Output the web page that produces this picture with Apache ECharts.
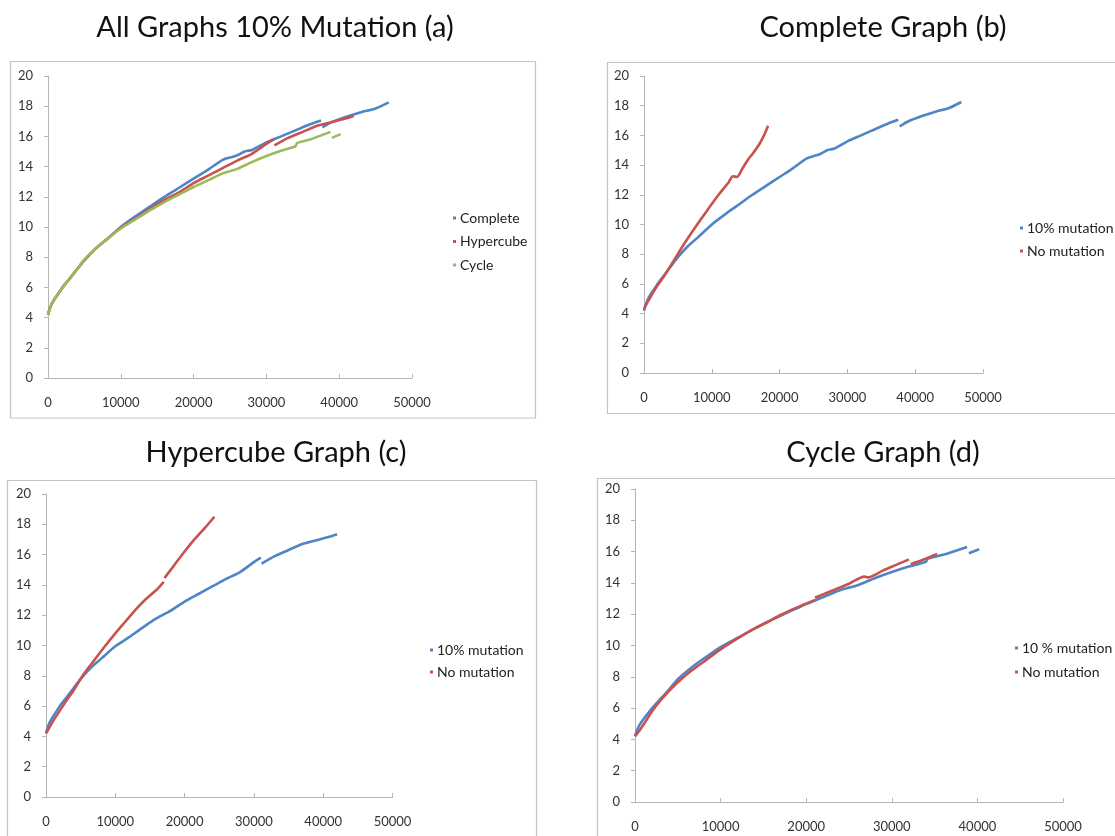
<!DOCTYPE html>
<html><head><meta charset="utf-8">
<script src="https://cdn.jsdelivr.net/npm/echarts@6/dist/echarts.min.js"></script>
<style>html,body{margin:0;padding:0;background:#fff;} #c{width:1115px;height:836px;}</style>
</head><body><div id="c"></div>
<script>
// ---------- data ----------
const panelTitles = ['All Graphs 10% Mutation (a)', 'Complete Graph (b)', 'Hypercube Graph (c)', 'Cycle Graph (d)'];
const legendA = ['Complete', 'Hypercube', 'Cycle'];
const legendBC = ['10% mutation', 'No mutation'];
const legendD = ['10 % mutation', 'No mutation'];

// Complete graph, 10% mutation
const complete10X = [0, 250, 500, 1000, 1500, 2000, 3000, 4000, 5000, 6500, 8000, 10000, 12000, 14000, 16000, 18000, 20000, 22000, 24000, 25000, 26000, 27000, 28000, 30000, 32000, 34000, 36000, 37500, 37600, 37700, 39000, 41000, 43000, 45000, 46800];
const complete10Y = [4.2, 4.6, 4.9, 5.3, 5.65, 6.0, 6.6, 7.2, 7.8, 8.55, 9.15, 10.0, 10.7, 11.35, 12.0, 12.6, 13.2, 13.8, 14.45, 14.6, 14.75, 15.0, 15.1, 15.6, 16.0, 16.4, 16.8, 17.05, null, 16.6, 16.95, 17.3, 17.6, 17.85, 18.25];
// Hypercube graph, 10% mutation
const hyper10X = [0, 250, 500, 1000, 1500, 2000, 3000, 4000, 5000, 6500, 8000, 10000, 12000, 14000, 16000, 18000, 20000, 22000, 24000, 26000, 28000, 30000, 31000, 31050, 31100, 33000, 35000, 37000, 39000, 41000, 42000];
const hyper10Y = [4.2, 4.6, 4.9, 5.3, 5.65, 6.0, 6.6, 7.2, 7.8, 8.55, 9.15, 9.95, 10.55, 11.2, 11.8, 12.3, 12.9, 13.4, 13.9, 14.4, 14.85, 15.5, 15.8, null, 15.4, 15.9, 16.3, 16.7, 16.95, 17.2, 17.35];
// Cycle graph, 10% mutation
const cycle10X = [0, 250, 500, 1000, 1500, 2000, 3000, 4000, 5000, 6500, 8000, 10000, 12000, 14000, 16000, 18000, 20000, 22000, 24000, 25000, 26000, 28000, 30000, 32000, 34000, 34200, 36000, 38800, 38900, 39000, 40200];
const cycle10Y = [4.2, 4.6, 4.9, 5.3, 5.65, 6.0, 6.6, 7.2, 7.85, 8.55, 9.15, 9.9, 10.5, 11.1, 11.65, 12.15, 12.65, 13.1, 13.55, 13.7, 13.85, 14.3, 14.7, 15.05, 15.35, 15.55, 15.8, 16.3, null, 15.9, 16.15];
// No mutation
const completeNoX = [0, 500, 1000, 2000, 3000, 4300, 6000, 8000, 9400, 11000, 12500, 13100, 13700, 14500, 15300, 16000, 17000, 17700, 18300];
const completeNoY = [4.3, 4.75, 5.15, 5.9, 6.55, 7.5, 8.75, 10.1, 11.0, 12.0, 12.85, 13.25, 13.2, 13.75, 14.35, 14.75, 15.4, 16.0, 16.65];
const hyperNoX = [0, 500, 1000, 2000, 3000, 4000, 5500, 7000, 8500, 10000, 11500, 13000, 14500, 16000, 17000, 17050, 17100, 18500, 20000, 21500, 23000, 24300];
const hyperNoY = [4.2, 4.6, 5.0, 5.7, 6.4, 7.05, 8.15, 9.05, 9.95, 10.8, 11.6, 12.4, 13.1, 13.7, 14.2, null, 14.45, 15.3, 16.2, 17.05, 17.8, 18.5];
const cycleNoX = [0, 500, 1000, 2000, 3000, 4000, 5000, 6500, 8000, 10000, 12000, 14000, 15500, 17000, 19000, 21000, 21010, 21020, 23000, 25000, 26800, 27200, 29000, 30500, 32000, 32100, 32200, 33500, 35300];
const cycleNoY = [4.2, 4.55, 4.95, 5.8, 6.5, 7.1, 7.65, 8.35, 8.95, 9.75, 10.45, 11.1, 11.5, 11.95, 12.45, 12.9, null, 13.05, 13.5, 13.95, 14.4, 14.35, 14.8, 15.15, 15.5, null, 15.2, 15.45, 15.85];

// ---------- layout / style ----------
const BLUE = '#4F85C6', RED = '#C9514E', GREEN = '#9BBB59';
const FONT = 'Lato';
const grids = [
  {left: 48, top: 76, width: 364, height: 302},
  {left: 644, top: 76, width: 339, height: 297},
  {left: 46, top: 494, width: 346.5, height: 303},
  {left: 635, top: 489, width: 428, height: 313}
];
const boxes = [
  [10.5, 61.5, 525, 356.5],
  [607.5, 62.5, 530, 351],
  [7.5, 480.5, 529, 380],
  [597.5, 478.5, 530, 380]
];
const titlePos = [[275, 28], [883, 28], [276, 453], [883, 453]];
const legendPos = [[453, 210, 7.5, legendA], [1020, 220, 7, legendBC], [430, 642, 6, legendBC], [1015, 640, 8, legendD]];

function zip(xs, ys) { return xs.map((x, i) => [x, ys[i]]); }
function line(name, xs, ys, color, idx) {
  return {
    type: 'line', name, xAxisIndex: idx, yAxisIndex: idx,
    data: zip(xs, ys), connectNulls: false, smooth: 0.25,
    symbol: 'none', showSymbol: false,
    lineStyle: {width: 2.6, color}, itemStyle: {color},
    emphasis: {disabled: true}
  };
}
const axisColor = '#b5b5b5';
const xAxes = grids.map((g, i) => ({
  type: 'value', gridIndex: i, min: 0, max: 50000, interval: 10000,
  axisLine: {show: true, lineStyle: {color: axisColor, width: 1}},
  axisTick: {show: true, inside: true, length: 4, lineStyle: {color: axisColor}},
  splitLine: {show: false},
  axisLabel: {margin: 18, fontFamily: FONT, fontSize: 13, color: '#333', formatter: v => String(v)}
}));
const yAxes = grids.map((g, i) => ({
  type: 'value', gridIndex: i, min: 0, max: 20, interval: 2,
  axisLine: {show: true, lineStyle: {color: axisColor, width: 1}},
  axisTick: {show: true, inside: false, length: 4, lineStyle: {color: axisColor}},
  splitLine: {show: false},
  axisLabel: {margin: 15, fontFamily: FONT, fontSize: 13, color: '#333', formatter: v => String(v)}
}));

const series = [
  line('Complete', complete10X, complete10Y, BLUE, 0),
  line('Hypercube', hyper10X, hyper10Y, RED, 0),
  line('Cycle', cycle10X, cycle10Y, GREEN, 0),
  line('10% mutation', complete10X, complete10Y, BLUE, 1),
  line('No mutation', completeNoX, completeNoY, RED, 1),
  line('10% mutation', hyper10X, hyper10Y, BLUE, 2),
  line('No mutation', hyperNoX, hyperNoY, RED, 2),
  line('10 % mutation', cycle10X, cycle10Y, BLUE, 3),
  line('No mutation', cycleNoX, cycleNoY, RED, 3)
];

const legends = legendPos.map(([l, t, gap, data]) => ({
  orient: 'vertical', left: l, top: t, data, itemGap: gap,
  icon: 'rect', itemWidth: 3, itemHeight: 3, padding: 0, selectedMode: false,
  textStyle: {fontFamily: FONT, fontSize: 14, color: '#222', lineHeight: 16, padding: [0, 0, 0, -1]}
}));

const graphic = [];
boxes.forEach(b => graphic.push({
  type: 'rect', shape: {x: b[0], y: b[1], width: b[2], height: b[3]},
  style: {fill: 'none', stroke: '#c4c4c4', lineWidth: 1.2}, silent: true, z: 0
}));
panelTitles.forEach((t, i) => graphic.push({
  type: 'text', x: titlePos[i][0], y: titlePos[i][1],
  style: {text: t, font: '29px Lato', fill: '#111', align: 'center', verticalAlign: 'middle'},
  silent: true
}));

const chart = echarts.init(document.getElementById('c'), null, {renderer: 'canvas'});
chart.setOption({
  animation: false,
  backgroundColor: '#fff',
  grid: grids,
  xAxis: xAxes,
  yAxis: yAxes,
  legend: legends,
  series,
  graphic
});
</script>
</body></html>
